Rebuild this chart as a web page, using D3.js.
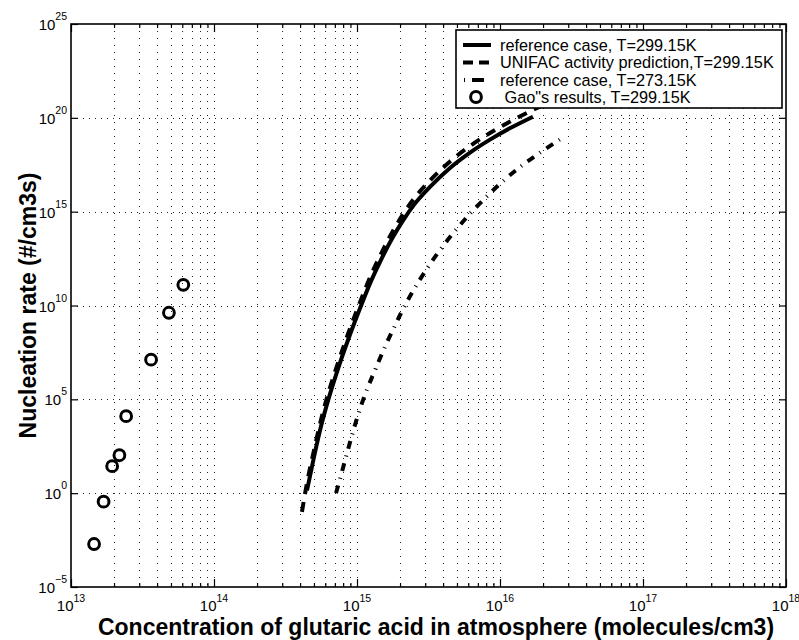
<!DOCTYPE html>
<html><head><meta charset="utf-8">
<script src="https://cdn.jsdelivr.net/npm/d3@7"></script>
<style>
html,body{margin:0;padding:0;background:#fff;}
text{font-family:"Liberation Sans",Arial,Helvetica,sans-serif;fill:#000;}
</style></head>
<body>
<svg id="chart" width="799" height="640"></svg>
<script>
// ---- data ----
const xTickExponents = [13, 14, 15, 16, 17, 18];
const yTickExponents = [-5, 0, 5, 10, 15, 20, 25];

const gaoConc = [6.10e13, 4.84e13, 3.63e13, 2.43e13, 2.18e13, 1.94e13, 1.69e13, 1.45e13];
const gaoRate = [1.26e11, 4.1e9, 1.3e7, 1.26e4, 1.05e2, 2.75e1, 3.5e-1, 1.95e-3];

const ref299Conc = [4.47e14, 5.01e14, 5.62e14, 6.31e14, 7.08e14, 8.91e14, 1.05e15, 1.26e15, 1.45e15, 1.78e15, 2.09e15, 2.51e15, 3.24e15, 4.47e15, 6.17e15, 8.51e15, 1.17e16, 1.70e16];
const ref299Rate = [1.41e0, 8.9e1, 4.0e3, 1.0e5, 1.68e6, 2.66e8, 7.2e9, 2.19e11, 2.14e12, 4.3e13, 3.24e14, 2.37e15, 2.09e16, 2.14e17, 1.41e18, 6.9e18, 2.75e19, 1.15e20];

const unifacConc = [4.12e14, 4.47e14, 5.01e14, 5.62e14, 6.31e14, 7.08e14, 8.91e14, 1.05e15, 1.26e15, 1.45e15, 1.78e15, 2.09e15, 2.51e15, 3.24e15, 4.47e15, 6.17e15, 8.51e15, 1.17e16, 1.70e16, 2.51e16, 3.55e16];
const unifacRate = [1.0e-1, 3.55e0, 2.0e2, 8.9e3, 2.24e5, 3.55e6, 5.6e8, 1.51e10, 4.6e11, 4.5e12, 9.1e13, 6.9e14, 5.1e15, 4.6e16, 4.7e17, 3.16e18, 1.55e19, 6.2e19, 2.63e20, 1.05e21, 3.0e21];

const ref273Conc = [7.13e14, 7.59e14, 8.32e14, 9.12e14, 1.02e15, 1.17e15, 1.35e15, 1.58e15, 1.82e15, 2.04e15, 2.45e15, 3.09e15, 3.72e15, 4.68e15, 6.17e15, 7.94e15, 1.02e16, 1.41e16, 1.91e16, 2.69e16];
const ref273Rate = [1.0e0, 5.4e0, 7.1e1, 8.9e2, 1.58e4, 3.1e5, 4.3e6, 7.2e7, 7.0e8, 4.2e9, 5.5e10, 9.3e11, 7.1e12, 6.8e13, 7.8e14, 5.6e15, 3.5e16, 2.7e17, 1.41e18, 7.9e18];

const legendLabels = ["reference case, T=299.15K", "UNIFAC activity prediction,T=299.15K", "reference case, T=273.15K", " Gao\"s results, T=299.15K"];
const xAxisTitle = "Concentration of glutaric acid in atmosphere (molecules/cm3)";
const yAxisTitle = "Nucleation rate (#/cm3s)";

// ---- layout ----
const L = 71, R = 786, T = 24, B = 587;
const svg = d3.select("#chart");
const x = d3.scaleLog().domain([1e13, 1e18]).range([L, R]);
const y = d3.scaleLog().domain([1e-5, 1e25]).range([B, T]);

// grid
const grid = svg.append("g");
const minorX = [];
for (let e = 13; e < 18; e++) for (let m = 1; m <= 9; m++) minorX.push(m * Math.pow(10, e));
minorX.push(1e18);
grid.selectAll("line.vx").data(minorX.filter(v => v > 1e13 && v < 1e18)).join("line")
  .attr("x1", d => Math.round(x(d)) + 0.5).attr("x2", d => Math.round(x(d)) + 0.5)
  .attr("y1", T).attr("y2", B)
  .attr("stroke", "#222").attr("stroke-width", 1).attr("stroke-dasharray", "1,6");
grid.selectAll("line.hy").data(yTickExponents.slice(1, -1)).join("line")
  .attr("x1", L).attr("x2", R)
  .attr("y1", d => Math.round(y(Math.pow(10, d))) + 0.5).attr("y2", d => Math.round(y(Math.pow(10, d))) + 0.5)
  .attr("stroke", "#222").attr("stroke-width", 1).attr("stroke-dasharray", "1,5");

// axes ticks
const xMajor = xTickExponents.map(e => Math.pow(10, e));
const yMajor = yTickExponents.map(e => Math.pow(10, e));
const xMinor = minorX.filter(v => !xMajor.includes(v));
svg.append("g").attr("transform", `translate(0,${B})`)
  .call(d3.axisTop(x).tickValues(xMajor).tickSize(8).tickFormat(""));
svg.append("g").attr("transform", `translate(0,${B})`)
  .call(d3.axisTop(x).tickValues(xMinor).tickSize(4).tickFormat(""));
svg.append("g").attr("transform", `translate(0,${T})`)
  .call(d3.axisBottom(x).tickValues(xMajor).tickSize(8).tickFormat(""));
svg.append("g").attr("transform", `translate(0,${T})`)
  .call(d3.axisBottom(x).tickValues(xMinor).tickSize(4).tickFormat(""));
svg.append("g").attr("transform", `translate(${L},0)`)
  .call(d3.axisRight(y).tickValues(yMajor).tickSize(7).tickFormat(""));
svg.append("g").attr("transform", `translate(${R},0)`)
  .call(d3.axisLeft(y).tickValues(yMajor).tickSize(7).tickFormat(""));
svg.selectAll(".domain").remove();
svg.selectAll(".tick line").attr("stroke", "#000").attr("stroke-width", 1.2);

// box
svg.append("rect").attr("x", L).attr("y", T).attr("width", R - L).attr("height", B - T)
  .attr("fill", "none").attr("stroke", "#000").attr("stroke-width", 1.6);

// tick labels
const xl = svg.append("g");
xTickExponents.forEach(e => {
  const g = xl.append("g");
  const t1 = g.append("text").attr("y", 610.5).style("font-size", "15px").text("10");
  const t2 = g.append("text").attr("y", 601.5).style("font-size", "10.5px").text(String(e));
  const w1 = t1.node().getComputedTextLength(), w2 = t2.node().getComputedTextLength();
  const cx = x(Math.pow(10, e));
  const start = cx - (w1 + w2) / 2;
  t1.attr("x", start); t2.attr("x", start + w1);
});
const yl = svg.append("g");
yTickExponents.forEach(e => {
  const yy = y(Math.pow(10, e));
  const t2 = yl.append("text").attr("x", 67).attr("y", yy - 4).attr("text-anchor", "end")
    .style("font-size", "10.5px").text(e < 0 ? "\u2212" + Math.abs(e) : String(e));
  const w2 = t2.node().getComputedTextLength();
  yl.append("text").attr("x", 67 - w2).attr("y", yy + 6).attr("text-anchor", "end")
    .style("font-size", "15px").text("10");
});

// axis titles
svg.append("text").attr("x", 436).attr("y", 635).attr("text-anchor", "middle")
  .style("font-size", "23px").style("font-weight", "bold").text(xAxisTitle);
svg.append("text").attr("transform", `translate(36,${(T + B) / 2}) rotate(-90)`).attr("text-anchor", "middle")
  .style("font-size", "23px").style("font-weight", "bold").text(yAxisTitle);

// clip
svg.append("clipPath").attr("id", "clip").append("rect").attr("x", L).attr("y", T).attr("width", R - L).attr("height", B - T);
const plot = svg.append("g").attr("clip-path", "url(#clip)");
const line = d3.line().x(d => x(d[0])).y(d => y(d[1])).curve(d3.curveMonotoneX);

plot.append("path").datum(d3.zip(ref299Conc, ref299Rate)).attr("d", line)
  .attr("fill", "none").attr("stroke", "#000").attr("stroke-width", 4);
plot.append("path").datum(d3.zip(unifacConc, unifacRate)).attr("d", line)
  .attr("fill", "none").attr("stroke", "#000").attr("stroke-width", 4).attr("stroke-dasharray", "10,8");
plot.append("path").datum(d3.zip(ref273Conc, ref273Rate)).attr("d", line)
  .attr("fill", "none").attr("stroke", "#000").attr("stroke-width", 4).attr("stroke-dasharray", "8,7,1,7");
plot.selectAll("circle.gao").data(d3.zip(gaoConc, gaoRate)).join("circle")
  .attr("cx", d => x(d[0])).attr("cy", d => y(d[1])).attr("r", 5.4)
  .attr("fill", "none").attr("stroke", "#000").attr("stroke-width", 3);

// legend
const lg = svg.append("g");
lg.append("rect").attr("x", 456).attr("y", 30).attr("width", 326).attr("height", 78)
  .attr("fill", "#fff").attr("stroke", "#000").attr("stroke-width", 1.6);
const rowY = [45, 62.5, 80, 97];
const styles = [null, "10,6", "1,7,12,7", null];
[0, 1, 2].forEach(i => {
  lg.append("line").attr("x1", i === 2 ? 464 : 463).attr("x2", 491).attr("y1", rowY[i]).attr("y2", rowY[i])
    .attr("stroke", "#000").attr("stroke-width", 4).attr("stroke-dasharray", styles[i]);
});
lg.append("circle").attr("cx", 476).attr("cy", rowY[3]).attr("r", 5.4).attr("fill", "none")
  .attr("stroke", "#000").attr("stroke-width", 3);
legendLabels.forEach((t, i) => {
  lg.append("text").attr("x", 500).attr("y", rowY[i] + 5.8).style("font-size", "16.3px")
    .style("white-space", "pre").attr("xml:space", "preserve").text(t);
});
</script>
</body></html>
